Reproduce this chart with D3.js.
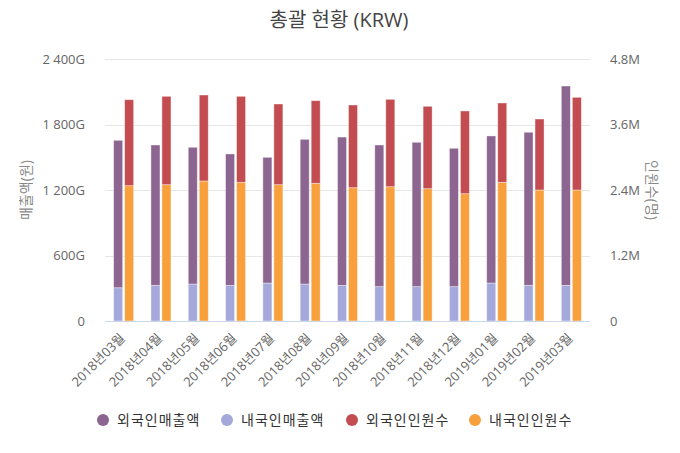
<!DOCTYPE html>
<html><head><meta charset="utf-8">
<script src="https://cdn.jsdelivr.net/npm/d3@7/dist/d3.min.js"></script>
<style>
body{margin:0;background:#fff;}
text{font-family:"Open Sans","Noto Sans CJK KR",sans-serif;}
</style></head>
<body><svg id="c" width="680" height="453"></svg>
<script>
const categories = ["2018년03월","2018년04월","2018년05월","2018년06월","2018년07월","2018년08월","2018년09월","2018년10월","2018년11월","2018년12월","2019년01월","2019년02월","2019년03월"];
// 매출액 (G원)
const foreignSales  = [1352,1287,1254,1205,1153,1327,1360,1299,1324,1269,1349,1404,1828];
const domesticSales = [305,327,339,327,348,339,327,315,315,315,348,327,327];
// 인원수 (명)
const foreignCount  = [1577000,1621000,1577000,1577000,1480000,1515000,1517000,1603000,1511000,1517000,1455000,1302000,1700000];
const domesticCount = [2482000,2500000,2568000,2544000,2500000,2526000,2445000,2463000,2427000,2335000,2544000,2403000,2403000];
const leftTicks = [0,600,1200,1800,2400];
const leftTickLabels = ["0","600G","1 200G","1 800G","2 400G"];
const rightTicks = [0,1200000,2400000,3600000,4800000];
const rightTickLabels = ["0","1.2M","2.4M","3.6M","4.8M"];
const seriesNames = ["외국인매출액","내국인매출액","외국인인원수","내국인인원수"];
const colors = ["#8c6591","#a4a8da","#c34c50","#f7a03c"];

const svg = d3.select("#c");
const L=105,R=590,T=59.3,B=321;
const x = d3.scaleBand().domain(categories).range([L,R]);
const inner = d3.scaleBand().domain(["s","c"]).range([0,x.bandwidth()]).paddingInner(0.18).paddingOuter(0.785);
const yL = d3.scaleLinear().domain([0,2400]).range([B,T]);
const yR = d3.scaleLinear().domain([0,4800000]).range([B,T]);

svg.append("text").attr("x",339).attr("y",27).attr("text-anchor","middle")
  .attr("font-size",20).attr("fill","#444").text("총괄 현황 (KRW)");

// grid
svg.append("g").selectAll("line").data(leftTicks.slice(1)).join("line")
  .attr("x1",L).attr("x2",R).attr("y1",d=>Math.round(yL(d))+0.5).attr("y2",d=>Math.round(yL(d))+0.5)
  .attr("stroke","#e6e6e6");

// left axis
const ga = svg.append("g").attr("transform",`translate(${L-17},0)`)
  .call(d3.axisLeft(yL).tickValues(leftTicks).tickSize(0).tickFormat((d,i)=>leftTickLabels[i]));
ga.select(".domain").remove();
ga.selectAll("text").attr("font-size",13).attr("fill","#666").attr("font-family",null);
const gb = svg.append("g").attr("transform",`translate(${R+17},0)`)
  .call(d3.axisRight(yR).tickValues(rightTicks).tickSize(0).tickFormat((d,i)=>rightTickLabels[i]));
gb.select(".domain").remove();
gb.selectAll("text").attr("font-size",13).attr("fill","#666").attr("font-family",null);

svg.append("text").attr("transform","translate(31,190) rotate(-90)").attr("text-anchor","middle")
  .attr("font-size",14).attr("fill","#888").text("매출액(원)");
svg.append("text").attr("transform","translate(647,190) rotate(90)").attr("text-anchor","middle")
  .attr("font-size",14).attr("fill","#888").text("인원수(명)");

// bars
const salesData = categories.map((c,i)=>({c,dom:domesticSales[i],for:foreignSales[i]}));
const countData = categories.map((c,i)=>({c,dom:domesticCount[i],for:foreignCount[i]}));
const sStack = d3.stack().keys(["dom","for"])(salesData);
const cStack = d3.stack().keys(["dom","for"])(countData);
const sCol = {dom:colors[1],for:colors[0]};
const cCol = {dom:colors[3],for:colors[2]};
sStack.forEach(layer=>{
  svg.append("g").selectAll("rect").data(layer).join("rect")
    .attr("x",d=>x(d.data.c)+inner("s")).attr("width",inner.bandwidth())
    .attr("y",d=>yL(d[1])).attr("height",d=>yL(d[0])-yL(d[1]))
    .attr("fill",sCol[layer.key]).attr("stroke","#fff").attr("stroke-opacity",0.5).attr("stroke-width",0.8);
});
cStack.forEach(layer=>{
  svg.append("g").selectAll("rect").data(layer).join("rect")
    .attr("x",d=>x(d.data.c)+inner("c")).attr("width",inner.bandwidth())
    .attr("y",d=>yR(d[1])).attr("height",d=>yR(d[0])-yR(d[1]))
    .attr("fill",cCol[layer.key]).attr("stroke","#fff").attr("stroke-opacity",0.5).attr("stroke-width",0.8);
});

// x axis
svg.append("line").attr("x1",L).attr("x2",R).attr("y1",B+0.5).attr("y2",B+0.5).attr("stroke","#ccd6eb");
svg.append("g").selectAll("text").data(categories).join("text")
  .attr("transform",d=>`translate(${x(d)+x.bandwidth()/2+2},${B+18}) rotate(-45)`)
  .attr("text-anchor","end").attr("font-size",13).attr("fill","#666").text(d=>d);

// legend
const legX = [103,227,352,475];
const lg = svg.append("g").selectAll("g").data(seriesNames).join("g")
  .attr("transform",(d,i)=>`translate(${legX[i]},420)`);
lg.append("circle").attr("r",6).attr("fill",(d,i)=>colors[i]);
lg.append("text").attr("x",14).attr("dy","0.35em").attr("font-size",14).attr("fill","#333")
  .attr("letter-spacing",1).text(d=>d);
</script></body></html>
